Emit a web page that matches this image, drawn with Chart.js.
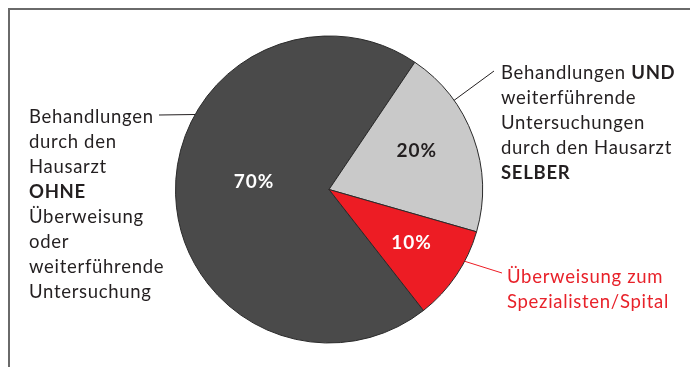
<!DOCTYPE html>
<html>
<head>
<meta charset="utf-8">
<script src="https://cdn.jsdelivr.net/npm/chart.js@4"></script>
<style>
  html, body { margin: 0; padding: 0; background: #fff; }
  #wrap { width: 692px; height: 367px; position: relative; }
</style>
</head>
<body>
<div id="wrap"><canvas id="pie" width="692" height="367"></canvas></div>
<script>
// Anteile der Behandlungen (in %)
const sliceValues = [70, 20, 10];
const sliceNames = [
  'Behandlungen durch den Hausarzt OHNE Überweisung oder weiterführende Untersuchung',
  'Behandlungen UND weiterführende Untersuchungen durch den Hausarzt SELBER',
  'Überweisung zum Spezialisten/Spital'
];
// Beschriftungszeilen, [text, fett]
const labelLines = [
  [[['Behandlungen', false]], [['durch den', false]], [['Hausarzt', false]], [['OHNE', true]],
   [['Überweisung', false]], [['oder', false]], [['weiterführende', false]], [['Untersuchung', false]]],
  [[['Behandlungen ', false], ['UND', true]], [['weiterführende', false]], [['Untersuchungen', false]],
   [['durch den Hausarzt', false]], [['SELBER', true]]],
  [[['Überweisung zum', false]], [['Spezialisten/Spital', false]]]
];
const sliceColors = ['#4a4a4a', '#c9c9c9', '#ed1c24'];
const valueColors = ['#ffffff', '#231f20', '#ffffff'];

const FONT = 'Lato, "Open Sans", sans-serif';

// Platzierung der Texte und Linien
const labelStyle = [
  { x: 29, y: 117, color: '#231f20', lead: { frac: 0.624, to: [159, 115] }, val: { frac: 0.53, r: 0.49 } },
  { x: 501, y: 73, color: '#231f20', lead: { frac: 0.285, to: [494, 71] }, val: { frac: 0.446, r: 0.625 } },
  { x: 507, y: 277, color: '#e8222a', lead: { frac: 0.33, to: [502, 273] }, val: { frac: 0.47, r: 0.64 } }
];

const framePlugin = {
  id: 'frame',
  beforeDraw(chart) {
    const { ctx } = chart;
    ctx.save();
    ctx.strokeStyle = '#6a6a6a';
    ctx.lineWidth = 2;
    ctx.beginPath();
    ctx.moveTo(9, 367);
    ctx.lineTo(9, 9);
    ctx.lineTo(690, 9);
    ctx.stroke();
    ctx.restore();
  }
};

const labelPlugin = {
  id: 'sliceLabels',
  afterDatasetsDraw(chart) {
    const { ctx } = chart;
    const arcs = chart.getDatasetMeta(0).data;
    ctx.save();
    arcs.forEach((arc, i) => {
      const st = labelStyle[i];
      const { x: cx, y: cy, startAngle, endAngle, outerRadius } = arc.getProps(['x', 'y', 'startAngle', 'endAngle', 'outerRadius'], true);

      // Verbindungslinie
      const a = startAngle + (endAngle - startAngle) * st.lead.frac;
      ctx.strokeStyle = i === 2 ? '#ed1c24' : '#231f20';
      ctx.lineWidth = 1;
      ctx.beginPath();
      ctx.moveTo(cx + Math.cos(a) * outerRadius, cy + Math.sin(a) * outerRadius);
      ctx.lineTo(st.lead.to[0], st.lead.to[1]);
      ctx.stroke();

      // Prozentwert
      const va = startAngle + (endAngle - startAngle) * st.val.frac;
      const vr = outerRadius * st.val.r;
      ctx.fillStyle = valueColors[i];
      ctx.font = 'bold 19px ' + FONT;
      ctx.letterSpacing = '1px';
      ctx.textAlign = 'center';
      ctx.textBaseline = 'middle';
      ctx.fillText(sliceValues[i] + '%', cx + Math.cos(va) * vr, cy + Math.sin(va) * vr);

      // Beschriftung
      ctx.textAlign = 'left';
      ctx.fillStyle = st.color;
      ctx.letterSpacing = '0.7px';
      labelLines[i].forEach((line, li) => {
        let x = st.x;
        const y = st.y + li * 25;
        line.forEach(([txt, bold]) => {
          ctx.font = (bold ? 'bold ' : '') + '18.5px ' + FONT;
          ctx.fillText(txt, x, y);
          x += ctx.measureText(txt).width;
        });
      });
    });
    ctx.restore();
  }
};

new Chart(document.getElementById('pie'), {
  type: 'pie',
  data: {
    labels: sliceNames,
    datasets: [{
      data: sliceValues,
      backgroundColor: sliceColors,
      borderColor: '#2a2a2a',
      borderWidth: 1
    }]
  },
  options: {
    responsive: false,
    animation: false,
    rotation: 142,
    layout: { padding: { left: 175, right: 209, top: 35, bottom: 23 } },
    plugins: {
      legend: { display: false },
      tooltip: { enabled: false }
    }
  },
  plugins: [framePlugin, labelPlugin]
});
</script>
</body>
</html>
